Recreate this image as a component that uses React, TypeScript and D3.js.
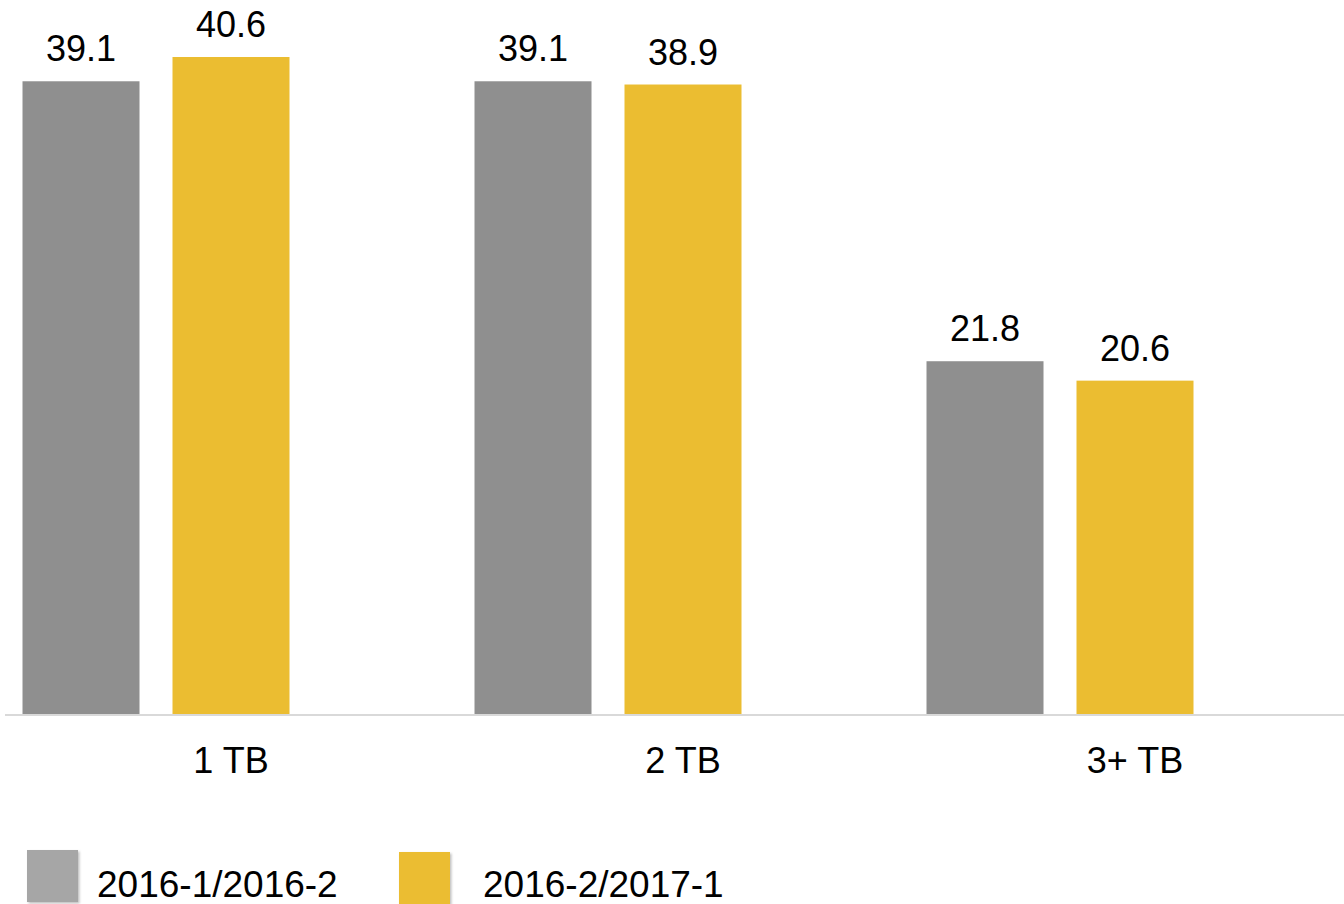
import React, { useEffect, useRef } from "react";
import * as d3 from "d3";

const categories = ["1 TB", "2 TB", "3+ TB"];
const seriesNames = ["2016-1/2016-2", "2016-2/2017-1"];
const seriesA = [39.1, 39.1, 21.8];
const seriesB = [40.6, 38.9, 20.6];

const barColors = ["#8f8f8f", "#ebbd31"];
const legendColors = ["#a6a6a6", "#ebbd31"];

const W = 1344;
const H = 904;
const FONT = "'Liberation Sans', Arial, sans-serif";

const App = () => {
  const svgRef = useRef<SVGSVGElement>(null);

  useEffect(() => {
    const svg = d3.select(svgRef.current);
    svg.selectAll("*").remove();

    const baseY = 714;
    const bandW = 452;
    const values = [seriesA, seriesB];

    // bands continue past the right edge (chart is cropped)
    const x = d3
      .scaleBand()
      .domain(categories)
      .range([5, 5 + bandW * categories.length])
      .padding(0);

    // the original layout keeps room for a third (empty) series slot
    const xs = d3
      .scaleBand<number>()
      .domain([0, 1, 2])
      .range([0, bandW])
      .paddingInner(0.22)
      .paddingOuter(0.1167);

    const y = d3
      .scaleLinear()
      .domain([0, d3.max(seriesB) as number])
      .range([baseY, 57]);

    const defs = svg.append("defs");
    const f = defs
      .append("filter")
      .attr("id", "shadow")
      .attr("x", "-20%")
      .attr("y", "-20%")
      .attr("width", "150%")
      .attr("height", "150%");
    f.append("feDropShadow")
      .attr("dx", 1.5)
      .attr("dy", 1.5)
      .attr("stdDeviation", 1.2)
      .attr("flood-color", "#000")
      .attr("flood-opacity", 0.25);

    values.forEach((vals, si) => {
      const g = svg.append("g");
      g.selectAll("rect")
        .data(vals)
        .enter()
        .append("rect")
        .attr("x", (d, i) => (x(categories[i]) as number) + (xs(si) as number))
        .attr("y", (d) => y(d))
        .attr("width", xs.bandwidth())
        .attr("height", (d) => baseY - y(d))
        .attr("fill", barColors[si]);

      g.selectAll("text")
        .data(vals)
        .enter()
        .append("text")
        .attr("x", (d, i) => (x(categories[i]) as number) + (xs(si) as number) + xs.bandwidth() / 2)
        .attr("y", (d) => y(d) - 20)
        .attr("text-anchor", "middle")
        .attr("font-family", FONT)
        .attr("font-size", 36)
        .attr("fill", "#000")
        .text((d) => d.toFixed(1));
    });

    // baseline
    svg
      .append("line")
      .attr("x1", 5)
      .attr("x2", W)
      .attr("y1", baseY + 1)
      .attr("y2", baseY + 1)
      .attr("stroke", "#d9d9d9")
      .attr("stroke-width", 2);

    svg
      .append("g")
      .selectAll("text")
      .data(categories)
      .enter()
      .append("text")
      .attr("x", (d) => (x(d) as number) + x.bandwidth() / 2)
      .attr("y", 773)
      .attr("text-anchor", "middle")
      .attr("font-family", FONT)
      .attr("font-size", 36)
      .attr("fill", "#000")
      .text((d) => d);

    // legend
    const legendX = [27, 399];
    const legendY = [850, 852];
    const legend = svg.append("g");
    seriesNames.forEach((name, i) => {
      legend
        .append("rect")
        .attr("x", legendX[i])
        .attr("y", legendY[i])
        .attr("width", 51)
        .attr("height", 52)
        .attr("fill", legendColors[i])
        .attr("filter", "url(#shadow)");
      legend
        .append("text")
        .attr("x", legendX[i] + (i === 0 ? 70 : 84))
        .attr("y", 897)
        .attr("font-family", FONT)
        .attr("font-size", 37)
        .attr("fill", "#000")
        .text(name);
    });
  }, []);

  return (
    <svg
      ref={svgRef}
      width={W}
      height={H}
      style={{ position: "absolute", left: 0, top: 0, background: "#fff" }}
    ></svg>
  );
};

export default App;
